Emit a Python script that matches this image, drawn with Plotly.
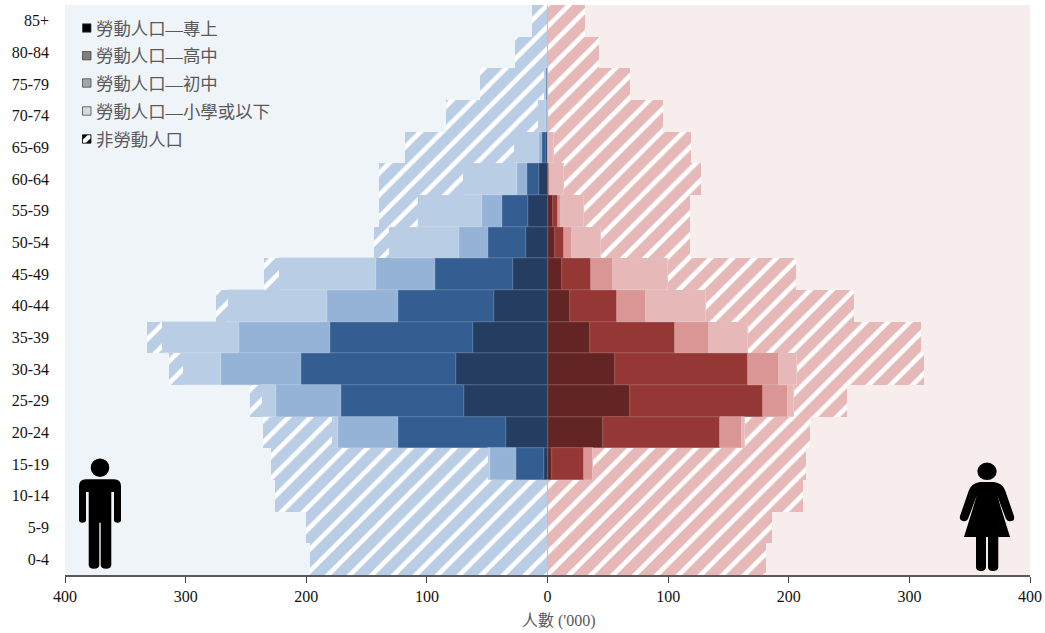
import plotly.graph_objects as go

ages = ["0-4","5-9","10-14","15-19","20-24","25-29","30-34","35-39","40-44","45-49","50-54","55-59","60-64","65-69","70-74","75-79","80-84","85+"]

male_tertiary  = [0,0,0,3,34,69,76,62,44,29,18,16,7,1,0.3,0.3,0,0]
male_upper     = [0,0,0,23,90,102,128,118,80,64,31,22,10,3.5,0.3,0.7,0,0]
male_lower     = [0,0,0,22,50,54,67,76,59,49,24,16,8,2.5,0.4,0.5,0,0]
male_primary   = [0,0,0,1,5,12,31,64,82,81,58,53,45,21,7,1.5,0,0]
male_inactive  = [197,200,226,180,57,10,12,12,10,12,13,33,70,90,76,53,27,13]

female_tertiary = [0,0,0,4,46,68,56,35,19,12,6,4.5,0.5,0,0,0,0,0]
female_upper    = [0,0,0,26,97,111,110,71,39,24,8,4.5,0.5,0,0,0,0,0]
female_lower    = [0,0,0,8,18,20,26,28,24,18,6,2,1,0,0,0,0,0]
female_primary  = [0,0,0,0,3,5,15,32,49,46,24,19,12,5.5,0,0,0,0]
female_inactive = [181,186,212,176,54,44,105,144,123,106,74,88,113,113.5,96,68,43,31]

x_ticks = [-400,-300,-200,-100,0,100,200,300,400]
x_labels = ["400","300","200","100","0","100","200","300","400"]
legend_labels = ["勞動人口—專上","勞動人口—高中","勞動人口—初中","勞動人口—小學或以下","非勞動人口"]
legend_colors = ["#000000","#7f7f7f","#a6a6a6","#d9d9d9"]
x_title = "人數 ('000)"

FONT = "Liberation Serif, Noto Sans CJK TC, serif"
W, H = 1045, 633
L, R, T, B = 65, 1030, 5, 575

def px(x): return (x - L) / (R - L)
def py(y): return (B - y) / (B - T)

def path(cmds):
    out = []
    for c in cmds:
        op, pts = c[0], c[1:]
        s = op + " ".join(f"{px(pts[i]):.5f},{py(pts[i+1]):.5f}" for i in range(0, len(pts), 2))
        out.append(s)
    return " ".join(out) + " Z"

fig = go.Figure()

def add(vals, color, line, sign, name, pattern=False):
    marker = dict(color=color, line=dict(color=line, width=0 if pattern else 0.5))
    if pattern:
        marker["pattern"] = dict(shape="/", size=15.5, solidity=0.3, fgcolor="#ffffff", bgcolor=color, fillmode="replace")
    fig.add_trace(go.Bar(y=ages, x=[sign * v for v in vals], orientation="h", name=name,
                         marker=marker, showlegend=False))

m = [("#243d61", "#5d7290"), ("#345e91", "#5d80a8"), ("#95b3d7", "#a9c2df"), ("#b9cde5", "#cbdaec"), ("#b9cde5", "#cbdaec")]
f = [("#632523", "#8f5b59"), ("#953735", "#ac5f5d"), ("#d99694", "#e2adab"), ("#e6b9b8", "#edcdcc"), ("#e6b9b8", "#edcdcc")]

for i, vals in enumerate([male_tertiary, male_upper, male_lower, male_primary, male_inactive]):
    add(vals, m[i][0], m[i][1], -1, "男 " + legend_labels[i], pattern=i == 4)
for i, vals in enumerate([female_tertiary, female_upper, female_lower, female_primary, female_inactive]):
    add(vals, f[i][0], f[i][1], 1, "女 " + legend_labels[i], pattern=i == 4)

shapes = [
    dict(type="rect", xref="x", yref="paper", x0=-400, x1=0, y0=0, y1=1, fillcolor="#eff4f9", line_width=0, layer="below"),
    dict(type="rect", xref="x", yref="paper", x0=0, x1=400, y0=0, y1=1, fillcolor="#f8eded", line_width=0, layer="below"),
]

def icon(**kw):
    shapes.append(dict(xref="paper", yref="paper", fillcolor="#000000", line_width=0, layer="above", **kw))

# man
icon(type="circle", x0=px(90.7), x1=px(109.3), y0=py(477), y1=py(458.4))
icon(type="path", path=path([
    ("M",86,479.3),("L",114,479.3),("Q",121,479.5,121,486),("L",121,520),("Q",121,522.7,117.5,522.7),
    ("Q",114,522.7,114,520),("L",114,492),("L",111.3,492),("L",111.3,565),("Q",111.3,568.7,106,568.7),
    ("Q",100.7,568.7,100.7,565),("L",100.7,522.7),("L",99.3,522.7),("L",99.3,565),("Q",99.3,568.7,94,568.7),
    ("Q",88.7,568.7,88.7,565),("L",88.7,492),("L",86,492),("L",86,520),("Q",86,522.7,82.5,522.7),
    ("Q",79,522.7,79,520),("L",79,486),("Q",79,479.5,86,479.3)]))
# woman
icon(type="circle", x0=px(977.3), x1=px(996.7), y0=py(480), y1=py(462.6))
icon(type="path", path=path([
    ("M",980,482),("L",994,482),("Q",1002,483,1005,490),("L",1014,516),("Q",1015,521,1011,521),
    ("Q",1008,522,1006,519),("L",997,495),("L",1010,537),("L",998.3,537),("L",998.3,567),("Q",998.3,571,993,571),
    ("Q",988,571,988,567),("L",988,537),("L",986,537),("L",986,567),("Q",986,571,981,571),("Q",976,571,976,567),
    ("L",976,537),("L",964,537),("L",977,495),("L",968,519),("Q",966,522,963,521),("Q",959,520,960,516),
    ("L",969,490),("Q",972,483,980,482)]))

# legend
ys = [28, 55.7, 83, 111, 139]
annotations = []
for i, (label, yc) in enumerate(zip(legend_labels, ys)):
    if i < 4:
        shapes.append(dict(type="rect", xref="paper", yref="paper", x0=px(82.5), x1=px(91), y0=py(yc+4.2), y1=py(yc-4.2),
                           fillcolor=legend_colors[i], line=dict(color="#404040", width=0.75), layer="above"))
    else:
        shapes.append(dict(type="rect", xref="paper", yref="paper", x0=px(82.5), x1=px(91), y0=py(yc+4.2), y1=py(yc-4.2),
                           fillcolor="#000000", line=dict(color="#000000", width=0.75), layer="above"))
        shapes.append(dict(type="path", xref="paper", yref="paper", fillcolor="#ffffff", line_width=0, layer="above",
                           path=path([("M",83,yc+3.7),("L",86,yc+3.7),("L",90.5,yc-0.5),("L",90.5,yc-3.7),("L",87.5,yc-3.7),("L",83,yc+0.5)])))
    annotations.append(dict(xref="paper", yref="paper", x=px(94), y=py(yc+0.8), xanchor="left", yanchor="middle",
                            text=label, showarrow=False, font=dict(family=FONT, size=17.4, color="#595959")))
annotations.append(dict(xref="paper", yref="paper", x=px(559), y=py(620.5), xanchor="center", yanchor="middle",
                        text=x_title, showarrow=False, font=dict(family=FONT, size=16, color="#595959")))

fig.update_layout(
    width=W, height=H, margin=dict(l=L, r=W-R, t=T, b=H-B, pad=0),
    barmode="relative", bargap=0, plot_bgcolor="rgba(0,0,0,0)", paper_bgcolor="#ffffff",
    font=dict(family=FONT, size=16, color="#000000"),
    showlegend=False, shapes=shapes, annotations=annotations,
    xaxis=dict(range=[-400, 400], tickvals=x_ticks, ticktext=x_labels, ticks="outside", ticklen=6, tickwidth=1,
               tickcolor="#404040", showline=True, linecolor="#595959", linewidth=1.5, showgrid=False, zeroline=False,
               automargin=False, tickfont=dict(size=16, color="#111111")),
    yaxis=dict(type="category", categoryorder="array", categoryarray=ages, ticks="", showline=False, showgrid=False,
               automargin=False, zeroline=False, ticklabelstandoff=15, tickfont=dict(size=16, color="#111111")),
)

fig.write_html("out.html", config=dict(displayModeBar=False),
               post_script="document.body.style.margin='0';document.body.style.overflow='hidden';")
